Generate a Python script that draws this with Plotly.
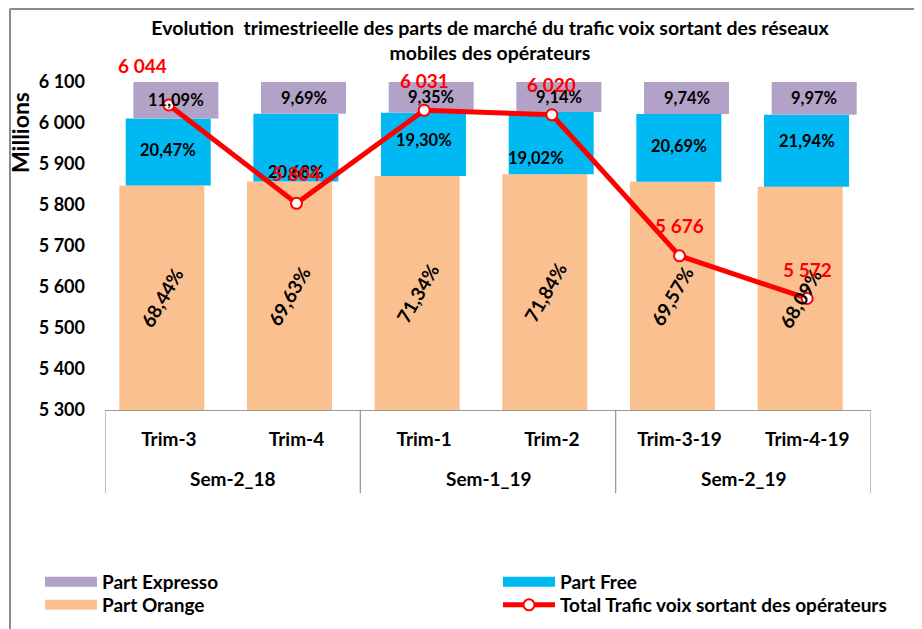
import plotly.graph_objects as go

semesters = ["Sem-2_18", "Sem-1_19", "Sem-2_19"]
quarters = ["Trim-3", "Trim-4", "Trim-1", "Trim-2", "Trim-3-19", "Trim-4-19"]
quarters_per_semester = [2, 2, 2]
part_orange = [68.44, 69.63, 71.34, 71.84, 69.57, 68.09]
part_free = [20.47, 20.68, 19.30, 19.02, 20.69, 21.94]
part_expresso = [11.09, 9.69, 9.35, 9.14, 9.74, 9.97]
total_trafic = [6044, 5804, 6031, 6020, 5676, 5572]

FONT = "Lato"
C_OR = "#FAC090"
C_FR = "#00B9F2"
C_EX = "#B3A2C7"
RED = "#FF0000"
GREY = "#9A9A9A"

# The page body has an 8px margin: work in screen pixels and convert.
OFF = 8
W, H = 922 - OFF, 629 - OFF
SCR_L, SCR_R, SCR_T, SCR_B = 105, 871, 82, 410  # plot area in screen px
L, R, T, B = SCR_L - OFF, W - (SCR_R - OFF), SCR_T - OFF, H - (SCR_B - OFF)
PW, PH = W - L - R, H - T - B
CATW = PW / len(quarters)


def sx(px):  # screen x -> paper
    return (px - OFF - L) / PW


def sy(py):  # screen y -> paper
    return (H - B - (py - OFF)) / PH


def cx(px):  # screen x -> container fraction
    return (px - OFF) / W


def cy(py):  # screen y -> container fraction
    return 1 - (py - OFF) / H


def pct(v):
    return f"{v:.2f}".replace(".", ",") + "%"


def thousands(v):
    return f"{v:,}".replace(",", " ")


idx = list(range(len(quarters)))
base_free = part_orange
base_exp = [a + b for a, b in zip(part_orange, part_free)]

BW = 0.666
OFF_OR, OFF_FR, OFF_EX = -0.388, -0.338, -0.278

fig = go.Figure()
fig.add_trace(go.Bar(x=quarters, y=part_orange, base=[0] * len(idx), name="Part Orange",
                     marker=dict(color=C_OR, line=dict(width=0)), width=BW, offset=OFF_OR,
                     yaxis="y", showlegend=False, hoverinfo="skip"))
fig.add_trace(go.Bar(x=quarters, y=part_free, base=base_free, name="Part Free",
                     marker=dict(color=C_FR, line=dict(width=0)), width=BW, offset=OFF_FR,
                     yaxis="y", showlegend=False, hoverinfo="skip"))
fig.add_trace(go.Bar(x=quarters, y=part_expresso, base=base_exp, name="Part Expresso",
                     marker=dict(color=C_EX, line=dict(width=0)), width=BW, offset=OFF_EX,
                     yaxis="y", showlegend=False, hoverinfo="skip"))
fig.add_trace(go.Scatter(x=quarters, y=total_trafic, name="Total Trafic voix sortant des opérateurs",
                         mode="lines+markers", yaxis="y2",
                         line=dict(color=RED, width=5),
                         marker=dict(size=11, color="white", line=dict(color=RED, width=2)),
                         legend="legend4", hoverinfo="skip"))

# legend entries with wide rectangular swatches
for name, col, lg in [("Part Expresso", C_EX, "legend"), ("Part Free", C_FR, "legend2"),
                      ("Part Orange", C_OR, "legend3")]:
    fig.add_trace(go.Scatter(x=[None], y=[None], mode="lines", name=name,
                             line=dict(color=col, width=15), legend=lg,
                             yaxis="y", hoverinfo="skip"))

annotations = []
lab_font = dict(family=FONT, size=16.5, color="black", weight="bold")
rot_font = dict(family=FONT, size=19, color="black", weight="bold")
for i, v in enumerate(part_orange):
    annotations.append(dict(x=i, y=v / 2, xref="x", yref="y", text=pct(v), showarrow=False,
                            textangle=-60, font=rot_font, xshift=(OFF_OR + BW / 2) * CATW))
free_shift_x = [0, 0, 0, -15, 0, 0]
free_shift_y = [2, -24, 4, -15, 2, 10]
for i, v in enumerate(part_free):
    annotations.append(dict(x=i, y=base_free[i] + v / 2, xref="x", yref="y", text=pct(v),
                            showarrow=False, font=lab_font,
                            xshift=(OFF_FR + BW / 2) * CATW + free_shift_x[i], yshift=free_shift_y[i]))
for i, v in enumerate(part_expresso):
    annotations.append(dict(x=i, y=base_exp[i] + v / 2, xref="x", yref="y", text=pct(v),
                            showarrow=False, font=lab_font,
                            xshift=(OFF_EX + BW / 2) * CATW))
tot_dx = [-26, 0, 0, 0, 0, 0]
tot_dy = [39, 30, 30, 30, 30, 29]
for i, v in enumerate(total_trafic):
    annotations.append(dict(x=i, y=v, xref="x", yref="y2", text=thousands(v), showarrow=False,
                            font=dict(family=FONT, size=19, color=RED, weight="bold"),
                            xshift=tot_dx[i], yshift=tot_dy[i]))
# semester group labels and dividers
shapes = []
start = 0
bounds = [-0.5]
for s, n in zip(semesters, quarters_per_semester):
    annotations.append(dict(x=start + (n - 1) / 2, y=sy(478), xref="x", yref="paper",
                            xanchor="center", yanchor="middle",
                            text=s, showarrow=False,
                            font=dict(family=FONT, size=19, color="black", weight="bold")))
    start += n
    bounds.append(start - 0.5)
for b in bounds:
    shapes.append(dict(type="line", xref="x", yref="paper", x0=b, x1=b, y0=0, y1=sy(493),
                       line=dict(color=GREY, width=1.3)))
# axis title
annotations.append(dict(x=sx(20), y=sy(133), xref="paper", yref="paper",
                        xanchor="center", yanchor="middle",
                        text="Millions", showarrow=False, textangle=-90,
                        font=dict(family=FONT, size=23, color="black", weight="bold")))

# outer frame (top and left edges)
shapes += [
    dict(type="line", xref="paper", yref="paper", x0=sx(10), x1=sx(10),
         y0=sy(8.5), y1=sy(660), line=dict(color="#8C8C8C", width=2)),
    dict(type="line", xref="paper", yref="paper", x0=sx(10), x1=sx(960),
         y0=sy(9), y1=sy(9), line=dict(color="#8C8C8C", width=2)),
]

leg_common = dict(orientation="v", xref="container", yref="container", xanchor="left",
                  yanchor="top", tracegroupgap=0, itemwidth=52, bgcolor="rgba(0,0,0,0)",
                  font=dict(family=FONT, size=19, color="black", weight="bold"))
ROW1, ROW2 = 563, 586
COL1, COL2 = 40, 498

fig.update_layout(
    width=W, height=H,
    margin=dict(l=L, r=R, t=T, b=B, autoexpand=False),
    paper_bgcolor="white", plot_bgcolor="white",
    separators=", ",
    barmode="overlay",
    font=dict(family=FONT, color="black"),
    title=dict(text="Evolution  trimestrieelle des parts de marché du trafic voix sortant des réseaux<br>mobiles des opérateurs",
               x=cx(490), xref="container", xanchor="center",
               y=cy(8 + 27), yref="container", yanchor="top",
               font=dict(family=FONT, size=19.5, color="black", weight="bold")),
    xaxis=dict(type="category", showline=True, linecolor=GREY, linewidth=1.3, ticks="",
               tickfont=dict(family=FONT, size=19, color="black", weight="bold"),
               ticklabelstandoff=12, automargin=False,
               showgrid=False, zeroline=False, range=[-0.5, 5.5]),
    yaxis=dict(range=[0, 100], visible=False, showgrid=False, automargin=False),
    yaxis2=dict(range=[5300, 6100], overlaying="y", side="left", dtick=100, tick0=5300,
                tickformat=",d", showgrid=False, zeroline=False, showline=False, ticks="",
                automargin=False, ticklabelstandoff=19,
                tickfont=dict(family=FONT, size=18, color="black", weight="bold")),
    legend=dict(x=cx(COL1), y=cy(ROW1), **leg_common),
    legend2=dict(x=cx(COL2), y=cy(ROW1), **leg_common),
    legend3=dict(x=cx(COL1), y=cy(ROW2), **leg_common),
    legend4=dict(x=cx(COL2), y=cy(ROW2), **leg_common),
    annotations=annotations,
    shapes=shapes,
    showlegend=True,
)

fig.write_html("out.html")
